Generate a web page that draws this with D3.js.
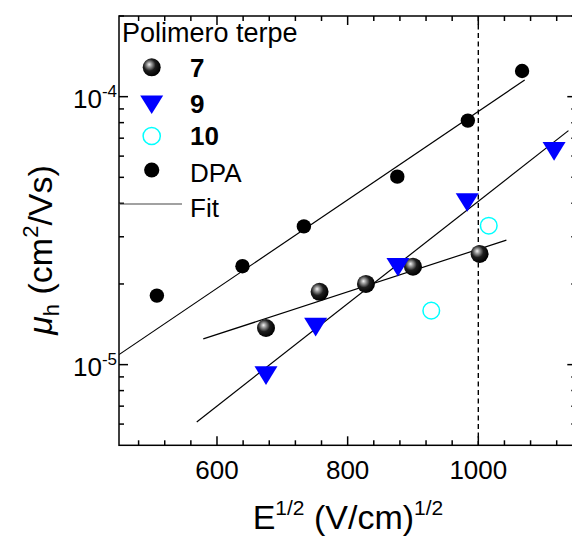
<!DOCTYPE html>
<html>
<head>
<meta charset="utf-8">
<script src="https://cdn.jsdelivr.net/npm/d3@7"></script>
<style>
  html, body { margin: 0; padding: 0; background: #fff; }
  svg { display: block; }
  text { font-family: "Liberation Sans", Arial, sans-serif; fill: #000; }
</style>
</head>
<body>
<svg id="chart" width="572" height="536"></svg>
<script>
// Hole mobility vs square root of field
const dpaX = [508, 639, 733, 876, 984, 1067];
const dpaY = [1.81e-5, 2.33e-5, 3.28e-5, 5.03e-5, 8.14e-5, 1.247e-4];

const p7X = [675, 757, 828, 900, 1002];
const p7Y = [1.37e-5, 1.87e-5, 2.0e-5, 2.32e-5, 2.59e-5];

const p9X = [675, 751, 877, 983, 1116];
const p9Y = [9.1e-6, 1.38e-5, 2.31e-5, 4.03e-5, 6.25e-5];

const p10X = [928, 1016];
const p10Y = [1.59e-5, 3.3e-5];

// linear fits (end points)
const fitDPAX = [450, 1071];
const fitDPAY = [1.09e-5, 1.154e-4];
const fit7X = [579, 1043];
const fit7Y = [1.247e-5, 2.916e-5];
const fit9X = [569, 1138];
const fit9Y = [6.11e-6, 7.47e-5];

const refLineX = 1000;

const xMajorTicks = [600, 800, 1000];
const xTickLabels = ["600", "800", "1000"];
const yMajorTicks = [1e-5, 1e-4];
const yTickExponents = ["-5", "-4"];

const legendTitle = "Polimero terpe";
const legendLabels = ["7", "9", "10", "DPA", "Fit"];

const svg = d3.select("#chart");
const pLeft = 119, pRight = 576.3, pTop = 16, pBottom = 445.3;

const x = d3.scaleLinear().domain([450, 1150]).range([pLeft, pRight]);
const y = d3.scaleLog().domain([5e-6, 2e-4]).range([pBottom, pTop]);

// sphere shading
const defs = svg.append("defs");
const grad = defs.append("radialGradient").attr("id", "sphere")
  .attr("cx", "40%").attr("cy", "40%").attr("r", "60%")
  .attr("fx", "36%").attr("fy", "34%");
grad.append("stop").attr("offset", "0%").attr("stop-color", "#f4f4f4");
grad.append("stop").attr("offset", "22%").attr("stop-color", "#9a9a9a");
grad.append("stop").attr("offset", "55%").attr("stop-color", "#1e1e1e");
grad.append("stop").attr("offset", "100%").attr("stop-color", "#000");

defs.append("clipPath").attr("id", "plotclip")
  .append("rect").attr("x", pLeft).attr("y", pTop)
  .attr("width", pRight - pLeft).attr("height", pBottom - pTop);

// minor tick values
const xMinor = d3.range(480, 1150, 40).filter(v => !xMajorTicks.includes(v));
const yMinor = [];
[1e-6, 1e-5, 1e-4].forEach(d => {
  for (let k = 2; k <= 9; k++) {
    const v = k * d;
    if (v >= 5e-6 && v <= 2e-4) yMinor.push(v);
  }
});

// axes: all ticks point inward
function xAxisTicks(g, yPos, dir) {
  g.selectAll(null).data(xMajorTicks).join("line")
    .attr("x1", d => x(d)).attr("x2", d => x(d))
    .attr("y1", yPos).attr("y2", yPos + dir * 9);
  g.selectAll(null).data(xMinor).join("line")
    .attr("x1", d => x(d)).attr("x2", d => x(d))
    .attr("y1", yPos).attr("y2", yPos + dir * 5);
}
function yAxisTicks(g, xPos, dir) {
  g.selectAll(null).data(yMajorTicks).join("line")
    .attr("y1", d => y(d)).attr("y2", d => y(d))
    .attr("x1", xPos).attr("x2", xPos + dir * 9);
  g.selectAll(null).data(yMinor).join("line")
    .attr("y1", d => y(d)).attr("y2", d => y(d))
    .attr("x1", xPos).attr("x2", xPos + dir * 5);
}

const axes = svg.append("g").attr("stroke", "#000").attr("stroke-width", 1.5);
axes.append("rect").attr("x", pLeft).attr("y", pTop)
  .attr("width", pRight - pLeft).attr("height", pBottom - pTop).attr("fill", "none");
xAxisTicks(axes.append("g"), pBottom, -1);
xAxisTicks(axes.append("g"), pTop, 1);
yAxisTicks(axes.append("g"), pLeft, 1);
yAxisTicks(axes.append("g"), pRight, -1);

// tick labels
svg.append("g").selectAll("text").data(xMajorTicks).join("text")
  .attr("x", d => x(d)).attr("y", 478.5)
  .attr("text-anchor", "middle").attr("font-size", 26)
  .text((d, i) => xTickLabels[i]);

const yl = svg.append("g").selectAll("text").data(yMajorTicks).join("text")
  .attr("x", 117).attr("y", d => y(d) + 11.5)
  .attr("text-anchor", "end").attr("font-size", 26);
yl.append("tspan").text("10");
yl.append("tspan").attr("font-size", 17).attr("dy", -11).text((d, i) => yTickExponents[i]);

// axis titles
const xt = svg.append("text").attr("x", 348).attr("y", 529)
  .attr("text-anchor", "middle").attr("font-size", 34);
xt.append("tspan").text("E");
xt.append("tspan").attr("font-size", 21).attr("dy", -14).text("1/2");
xt.append("tspan").attr("dy", 14).text(" (V/cm)");
xt.append("tspan").attr("font-size", 21).attr("dy", -14).text("1/2");

const yt = svg.append("text")
  .attr("transform", "translate(52,250) rotate(-90)")
  .attr("text-anchor", "middle").attr("font-size", 34);
yt.append("tspan").attr("font-style", "italic").text("\u03BC");
yt.append("tspan").attr("font-size", 22).attr("dy", 7).text("h");
yt.append("tspan").attr("dy", -7).text(" (cm");
yt.append("tspan").attr("font-size", 22).attr("dy", -14).text("2");
yt.append("tspan").attr("dy", 14).text("/Vs)");

// plot contents
const plot = svg.append("g").attr("clip-path", "url(#plotclip)");

// reference line
plot.append("line")
  .attr("x1", x(refLineX)).attr("x2", x(refLineX))
  .attr("y1", pTop).attr("y2", pBottom)
  .attr("stroke", "#000").attr("stroke-width", 1.4)
  .attr("stroke-dasharray", "5,3.5");

const line = d3.line().x(d => x(d[0])).y(d => y(d[1]));
[[fitDPAX, fitDPAY], [fit7X, fit7Y], [fit9X, fit9Y]].forEach(([xs, ys]) => {
  plot.append("path")
    .attr("d", line(d3.zip(xs, ys)))
    .attr("fill", "none").attr("stroke", "#000").attr("stroke-width", 1.2);
});

const tri = (cx, cy) => {
  const w = 11.5, h = 9.3;
  return `M${cx - w},${cy - h}L${cx + w},${cy - h}L${cx},${cy + h}Z`;
};

// DPA
plot.append("g").selectAll("circle").data(d3.zip(dpaX, dpaY)).join("circle")
  .attr("cx", d => x(d[0])).attr("cy", d => y(d[1])).attr("r", 7.2)
  .attr("fill", "#000");
// 7
plot.append("g").selectAll("circle").data(d3.zip(p7X, p7Y)).join("circle")
  .attr("cx", d => x(d[0])).attr("cy", d => y(d[1])).attr("r", 9)
  .attr("fill", "url(#sphere)");
// 9
plot.append("g").selectAll("path").data(d3.zip(p9X, p9Y)).join("path")
  .attr("d", d => tri(x(d[0]), y(d[1])))
  .attr("fill", "#0000ff");
// 10
plot.append("g").selectAll("circle").data(d3.zip(p10X, p10Y)).join("circle")
  .attr("cx", d => x(d[0])).attr("cy", d => y(d[1])).attr("r", 8.3)
  .attr("fill", "none").attr("stroke", "#00ffff").attr("stroke-width", 1.5);

// legend
const lg = svg.append("g");
lg.append("text").attr("x", 122).attr("y", 42.3).attr("font-size", 27).text(legendTitle);
const mx = 151.7;
lg.append("circle").attr("cx", mx).attr("cy", 67.3).attr("r", 9).attr("fill", "url(#sphere)");
lg.append("path").attr("d", tri(mx, 104.7)).attr("fill", "#0000ff");
lg.append("circle").attr("cx", mx).attr("cy", 136).attr("r", 8.6)
  .attr("fill", "none").attr("stroke", "#00ffff").attr("stroke-width", 1.5);
lg.append("circle").attr("cx", mx).attr("cy", 170).attr("r", 7.6).attr("fill", "#000");
lg.append("line").attr("x1", pLeft).attr("x2", 182).attr("y1", 204).attr("y2", 204)
  .attr("stroke", "#444").attr("stroke-width", 1.2);
const ly = [76.7, 113.3, 145, 181.7, 216.7];
legendLabels.forEach((t, i) => {
  lg.append("text").attr("x", 190).attr("y", ly[i]).attr("font-size", 26)
    .attr("font-weight", i < 3 ? "bold" : "normal").text(t);
});
</script>
</body>
</html>
